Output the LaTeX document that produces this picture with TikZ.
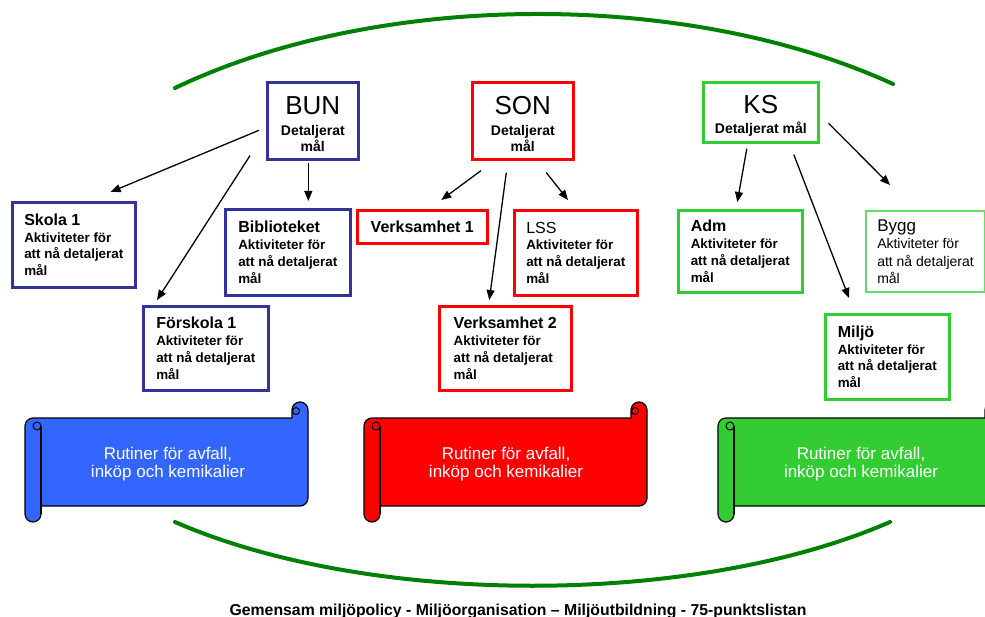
\documentclass[tikz,border=0pt]{standalone}
\usepackage{fontspec}
\setmainfont{Liberation Sans}
\usetikzlibrary{arrows.meta,calc}
\definecolor{bunc}{RGB}{51,51,153}
\definecolor{sonc}{RGB}{255,0,0}
\definecolor{ksc}{RGB}{51,204,51}
\definecolor{byggc}{RGB}{102,221,102}
\definecolor{arcc}{RGB}{0,128,0}
\definecolor{sblue}{RGB}{51,102,255}
\definecolor{sred}{RGB}{255,0,0}
\definecolor{sgreen}{RGB}{51,204,51}
\newcommand\mybigf{\fontsize{26}{28}\selectfont\mdseries}
\newcommand\mydetf{\fontsize{14}{16}\selectfont\bfseries}
\newcommand\myttlf{\fontsize{16}{17}\selectfont\bfseries}
\newcommand\myttlr{\fontsize{16}{17}\selectfont\mdseries}
\newcommand\mysubf{\fontsize{13.4}{16.7}\selectfont\bfseries}
\newcommand\myscroll[5]{%
  \filldraw[fill=#5, draw=black, line width=1.2pt, line join=round]
    (#1,#2+24) arc[start angle=180,end angle=90,radius=8pt]
    -- (#3-16,#2+16) -- (#3-16,#2+8) arc[start angle=180,end angle=0,radius=8pt]
    -- (#3,#4-24) arc[start angle=0,end angle=-90,radius=8pt]
    -- (#1+16,#4-16) -- (#1+16,#4-8) arc[start angle=0,end angle=-180,radius=8pt]
    -- cycle;
  \draw[line width=1.2pt] (#1+16,#2+24) -- (#1+16,#4-8);
  \filldraw[fill=#5, draw=black, line width=1pt] (#1+12,#2+24) circle[radius=4pt];
  \filldraw[fill=#5, draw=black, line width=1pt] (#3-12,#2+9) circle[radius=3.5pt];
}
\begin{document}
\begin{tikzpicture}[x=1pt,y=-1pt,
  boxbase/.style={draw=#1, line width=2.6pt, fill=white, inner sep=0pt, anchor=north west},
  head/.style={boxbase=#1, align=center, font=\mydetf},
  leaf/.style={boxbase=#1, align=left, font=\mysubf},
  arr/.style={-{Triangle[length=10pt,width=8pt]}, line width=1.3pt, draw=black},
  greenarc/.style={draw=arcc, line width=4pt, line cap=round},
  scrolltxt/.style={text=white, align=center, font=\fontsize{17}{18.5}\selectfont},
  foot/.style={font=\fontsize{15.8}{18}\selectfont\bfseries, anchor=base}]
\useasboundingbox (0,0) rectangle (985,617);

% green arcs
\draw[greenarc] (175,88) .. controls (380,-10) and (688,-10) .. (893,84);
\draw[greenarc] (175,522) .. controls (370,607) and (695,607) .. (890,522);

% head boxes
\node[head=bunc, minimum width=91pt, minimum height=77pt] (bun) at (266,81)
  {\rule{0pt}{24pt}\mybigf BUN\\[5pt]\mydetf Detaljerat\\\mydetf mål};
\node[head=sonc, minimum width=101pt, minimum height=77pt] (son) at (471,81)
  {\rule{0pt}{24pt}\mybigf SON\\[5pt]\mydetf Detaljerat\\\mydetf mål};
\node[head=ksc, minimum width=115pt, minimum height=60pt] (ks) at (702,81)
  {\rule{0pt}{25pt}\mybigf KS\\[4pt]\mydetf Detaljerat mål};

% leaf boxes
\node[leaf=bunc, minimum width=123pt, minimum height=85pt] (skola) at (11,201)
  {\myttlf Skola 1\\\mysubf Aktiviteter för\\\mysubf att nå detaljerat\\\mysubf mål};
\node[leaf=bunc, minimum width=125pt, minimum height=86pt] (bib) at (224,208)
  {\myttlf Biblioteket\\\mysubf Aktiviteter för\\\mysubf att nå detaljerat\\\mysubf mål};
\node[leaf=bunc, minimum width=125pt, minimum height=84pt] (forsk) at (142,305)
  {\myttlf Förskola 1\\\mysubf Aktiviteter för\\\mysubf att nå detaljerat\\\mysubf mål};
\node[head=sonc, minimum width=130pt, minimum height=33pt] (v1) at (356,209)
  {\myttlf Verksamhet 1};
\node[leaf=sonc, minimum width=123pt, minimum height=85pt] (lss) at (513,209)
  {\myttlr LSS\\\mysubf Aktiviteter för\\\mysubf att nå detaljerat\\\mysubf mål};
\node[leaf=sonc, minimum width=132pt, minimum height=84pt] (v2) at (438,305)
  {\myttlf Verksamhet 2\\\mysubf Aktiviteter för\\\mysubf att nå detaljerat\\\mysubf mål};
\node[leaf=ksc, minimum width=124pt, minimum height=82pt] (adm) at (677,209)
  {\myttlf Adm\\\mysubf Aktiviteter för\\\mysubf att nå detaljerat\\\mysubf mål};
\node[leaf=ksc, minimum width=124pt, minimum height=85pt] (miljo) at (824,313)
  {\myttlf Miljö\\\mysubf Aktiviteter för\\\mysubf att nå detaljerat\\\mysubf mål};
\node[boxbase=byggc, line width=2pt, align=left, minimum width=119pt,
      minimum height=81pt, font=\fontsize{14}{17.5}\selectfont] (bygg) at (865,210)
  {\fontsize{17}{17.5}\selectfont Bygg\\Aktiviteter för\\att nå detaljerat\\mål};

% arrows
\draw[arr] ($(bun.west)+(-7,9.5)$) -- ($(skola.north east)+(-26,-9)$);
\draw[arr] ($(bun.south west)+(-16,-5)$) -- ($(forsk.north west)+(15,-5)$);
\draw[arr] ($(bun.south)+(-4.5,2)$) -- ($(bib.north)+(20.5,-7)$);
\draw[arr] ($(son.south west)+(10,10)$) -- ($(v1.north)+(19,-9)$);
\draw[arr] ($(son.south)+(-16.5,12)$) -- ($(v2.north)+(-16,-5)$);
\draw[arr] ($(son.south)+(23.5,12)$) -- ($(lss.north west)+(55,-9)$);
\draw[arr] ($(ks.south)+(-14,5)$) -- ($(adm.north)+(-3,-7)$);
\draw[arr] ($(ks.south)+(33,11)$) -- ($(miljo.north west)+(25,-15)$);
\draw[arr] ($(ks.east)+(9,11)$) -- ($(bygg.north west)+(25,-25)$);

% scrolls
\myscroll{25}{402}{308}{522}{sblue}
\myscroll{364}{402}{647}{522}{sred}
\myscroll{718}{402}{1001}{522}{sgreen}
\node[scrolltxt] (s1t) at (168,464) {Rutiner för avfall,\\inköp och kemikalier};
\node[scrolltxt] (s2t) at (506,464) {Rutiner för avfall,\\inköp och kemikalier};
\node[scrolltxt] (s3t) at (861,464) {Rutiner för avfall,\\inköp och kemikalier};

% footer
\node[foot] (foot) at (518,615) {Gemensam miljöpolicy - Miljöorganisation – Miljöutbildning - 75-punktslistan};
\end{tikzpicture}
\end{document}
